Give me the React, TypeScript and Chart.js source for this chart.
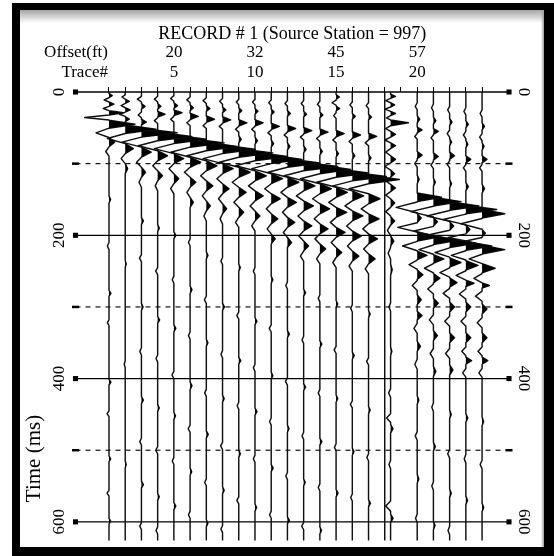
import React, { useEffect, useRef } from 'react';
import { Chart, registerables } from 'chart.js';

Chart.register(...registerables);

const SERIF = "'Liberation Serif', 'Times New Roman', serif";

// Header / axis annotations
const TRACE_NUMBERS = [1, 2, 3, 4, 5, 6, 7, 8, 9, 10, 11, 12, 13, 14, 15, 16, 17, 18, 19, 20, 21, 22, 23, 24];
const LABELED_TRACES = [5, 10, 15, 20];
const OFFSET_FT = [20, 32, 45, 57];
const TIME_TICKS = [0, 200, 400, 600];
const SOLID_LINES = [0, 200, 400, 600];
const DASHED_LINES = [100, 300, 500];
const TIME_MAX = 626;
const X_MIN = -1.065;
const X_MAX = 25.66;

// Plotted zero line of each trace (trace 19 carries a DC drift to the left)
const TRACE_ZERO = [1, 2, 3, 4, 5, 6, 7, 8, 9, 10, 11, 12, 13, 14, 15, 16, 17, 18, 18.36, 20, 21, 22, 23, 24];

// Each trace is a list of lobes: [time ms, amplitude (trace spacings, + = right), half width ms]
const TRACE_01 = [5, 0.2, 3, 11, -0.3, 3, 17, 0.3, 3, 23, -0.35, 3, 29, 0.9, 3, 35.5, -1.5, 3.5, 45, 1.6, 5.5, 57, -0.8, 6.5, 70, 0.35, 6.5, 83, -0.2, 6.5,
  150, 0.1, 5, 215, -0.1, 5, 281, 0.12, 4, 322, -0.1, 4, 405, 0.12, 4, 449, -0.12, 4, 512, 0.1, 4, 560, -0.12, 4, 599, 0.1, 4];
const TRACE_02 = [7, -0.2, 3, 13, 0.25, 3, 19, -0.25, 3, 25, 0.3, 3, 31, -0.35, 3, 38, 0.25, 3.5, 52, 1.9, 6, 65, -1.1, 7, 79, 0.5, 7, 93, -0.25, 7, 107, 0.15, 7,
  240, 0.06, 5, 380, -0.06, 5, 520, 0.06, 5];
const TRACE_03 = [10, -0.25, 4, 20, 0.22, 4, 32, -0.2, 4, 42, 0.3, 4, 57, 2.2, 6, 70, -1.2, 7, 84, 0.6, 7, 98, -0.3, 7, 112, 0.25, 7, 126, -0.15, 7,
  180, 0.12, 5, 232, -0.12, 5, 300, 0.1, 5, 362, -0.1, 5, 430, 0.12, 5, 488, -0.1, 5, 548, 0.12, 5, 606, -0.1, 5];
const TRACE_04 = [10, -0.2, 4, 20, 0.2, 4, 31, 0.45, 4, 40, -0.2, 4, 62, 2.1, 6, 75, -1.2, 7, 89, 0.6, 7, 103, -0.3, 7, 117, 0.3, 7, 131, -0.15, 7,
  190, 0.1, 5, 250, -0.12, 5, 318, 0.12, 5, 372, -0.1, 5, 441, 0.1, 5, 500, -0.12, 5, 565, 0.1, 5, 612, -0.1, 5];
const TRACE_05 = [9, -0.2, 4, 19, 0.22, 4, 29, 0.5, 4, 38, -0.2, 4, 66, 2.0, 6, 79, -1.2, 7, 93, 0.6, 7, 107, -0.3, 7, 121, 0.3, 7, 135, -0.2, 7,
  200, 0.12, 5, 262, -0.1, 5, 330, 0.12, 5, 395, -0.12, 5, 452, 0.1, 5, 515, -0.1, 5, 578, 0.12, 5];
const TRACE_06 = [11, -0.2, 4, 22, 0.2, 4, 34, 0.5, 4.5, 43, -0.2, 4, 71, 2.1, 6, 84, -1.2, 7, 98, 0.65, 7, 112, -0.35, 7, 126, 0.35, 7, 140, -0.2, 7, 154, 0.2, 7,
  210, -0.1, 5, 276, 0.12, 5, 340, -0.1, 5, 410, 0.12, 5, 470, -0.12, 5, 530, 0.1, 5, 590, -0.1, 5];
const TRACE_07 = [12, -0.2, 4, 23, 0.22, 4, 38, 0.5, 4.5, 47, -0.2, 4, 76, 1.9, 6, 89, -1.2, 7, 103, 0.65, 7, 117, -0.35, 7, 131, 0.4, 7, 145, -0.25, 7, 159, 0.25, 7, 173, -0.15, 7,
  228, 0.1, 5, 290, -0.12, 5, 350, 0.1, 5, 420, -0.1, 5, 478, 0.12, 5, 545, -0.1, 5, 602, 0.1, 5];
const TRACE_08 = [13, -0.18, 4, 25, 0.2, 4, 39, 0.5, 4.5, 48, -0.2, 4, 80, 2.0, 6, 93, -1.2, 7, 107, 0.65, 7, 121, -0.35, 7, 135, 0.4, 7, 149, -0.25, 7, 163, 0.25, 7, 177, -0.15, 7,
  236, -0.1, 5, 300, 0.12, 5, 366, -0.1, 5, 428, 0.1, 5, 494, -0.12, 5, 556, 0.1, 5, 610, -0.1, 5];
const TRACE_09 = [14, -0.15, 4, 26, 0.18, 4, 43, 0.5, 4.5, 52, -0.2, 4, 66, 0.15, 5, 85, 2.1, 6, 98, -1.2, 7, 112, 0.7, 7, 126, -0.4, 7, 140, 0.45, 7, 154, -0.3, 7, 168, 0.3, 7, 182, -0.2, 7,
  245, 0.1, 5, 312, -0.12, 5, 375, 0.12, 5, 438, -0.1, 5, 505, 0.1, 5, 570, -0.12, 5];
const TRACE_10 = [14, -0.15, 4, 27, 0.18, 4, 43, 0.5, 4.5, 52, -0.2, 4, 68, 0.15, 5, 90, 2.0, 6, 103, -1.2, 7, 117, 0.7, 7, 131, -0.4, 7, 145, 0.5, 7, 159, -0.3, 7, 173, 0.3, 7, 187, -0.2, 7,
  250, -0.1, 5, 320, 0.12, 5, 385, -0.1, 5, 446, 0.12, 5, 512, -0.1, 5, 580, 0.1, 5];
const TRACE_11 = [15, -0.15, 4, 28, 0.18, 4, 48, 0.5, 4.5, 57, -0.2, 4, 72, 0.15, 5, 94, 1.9, 6, 107, -1.2, 7, 121, 0.7, 7, 135, -0.4, 7, 149, 0.55, 7, 163, -0.3, 7, 177, 0.4, 7, 191, -0.25, 7, 205, 0.25, 7,
  262, 0.1, 5, 330, -0.12, 5, 396, 0.1, 5, 460, -0.1, 5, 525, 0.12, 5, 590, -0.1, 5];
const TRACE_12 = [16, -0.15, 4, 30, 0.18, 4, 51, 0.5, 4.5, 60, -0.2, 4, 76, 0.15, 5, 99, 2.0, 6, 112, -1.2, 7, 126, 0.7, 7, 140, -0.4, 7, 154, 0.55, 7, 168, -0.3, 7, 182, 0.45, 7, 196, -0.25, 7, 210, 0.25, 7,
  270, -0.1, 5, 338, 0.12, 5, 404, -0.12, 5, 470, 0.1, 5, 536, -0.1, 5, 598, 0.12, 5];
const TRACE_13 = [16, -0.15, 4, 31, 0.18, 4, 54, 0.5, 4.5, 63, -0.2, 4, 80, 0.15, 5, 104, 2.1, 6, 117, -1.2, 7, 131, 0.7, 7, 145, -0.45, 7, 159, 0.6, 7, 173, -0.35, 7, 187, 0.5, 7, 201, -0.3, 7, 215, 0.3, 7, 229, -0.2, 7,
  280, 0.12, 5, 346, -0.1, 5, 412, 0.12, 5, 480, -0.1, 5, 545, 0.1, 5, 606, -0.12, 5];
const TRACE_14 = [17, -0.15, 4, 32, 0.18, 4, 56, 0.5, 4.5, 65, -0.2, 4, 83, 0.15, 5, 108, 1.9, 6, 121, -1.2, 7, 135, 0.7, 7, 149, -0.45, 7, 163, 0.6, 7, 177, -0.35, 7, 191, 0.5, 7, 205, -0.3, 7, 219, 0.35, 7, 233, -0.2, 7,
  288, -0.1, 5, 352, 0.12, 5, 420, -0.1, 5, 488, 0.12, 5, 552, -0.1, 5, 612, 0.1, 5];
const TRACE_15 = [7, 0.2, 3.5, 15, -0.25, 3.5, 23, 0.22, 3.5, 33, -0.15, 4, 58, 0.5, 4.5, 67, -0.2, 4, 86, 0.15, 5, 113, 2.0, 6, 126, -1.2, 7, 140, 0.7, 7, 154, -0.45, 7, 168, 0.65, 7, 182, -0.35, 7, 196, 0.55, 7, 210, -0.3, 7, 224, 0.35, 7, 238, -0.2, 7,
  296, 0.1, 5, 360, -0.12, 5, 428, 0.1, 5, 496, -0.1, 5, 560, 0.12, 5];
const TRACE_16 = [18, -0.15, 4, 34, 0.18, 4, 60, 0.5, 4.5, 69, -0.2, 4, 89, 0.15, 5, 118, 2.1, 6, 131, -1.2, 7, 145, 0.7, 7, 159, -0.45, 7, 173, 0.65, 7, 187, -0.35, 7, 201, 0.55, 7, 215, -0.3, 7, 229, 0.4, 7, 243, -0.2, 7,
  302, -0.1, 5, 368, 0.12, 5, 436, -0.12, 5, 502, 0.1, 5, 566, -0.1, 5];
const TRACE_17 = [19, -0.15, 4, 35, 0.18, 4, 62, 0.5, 4.5, 71, -0.2, 4, 92, 0.15, 5, 122, 1.9, 6, 135, -1.2, 7, 149, 0.7, 7, 163, -0.45, 7, 177, 0.65, 7, 191, -0.35, 7, 205, 0.55, 7, 219, -0.3, 7, 233, 0.4, 7, 247, -0.2, 7,
  310, 0.1, 5, 376, -0.12, 5, 444, 0.1, 5, 510, -0.1, 5, 574, 0.12, 5];
// Dead channel: flat line
const TRACE_18: number[] = [];
// Noisy channel
const TRACE_19 = [6, 0.3, 3, 12, -0.3, 3, 18, 0.25, 3, 24, -0.35, 3, 30, 0.3, 3, 36, -0.25, 3, 43, 1.1, 4, 51, -0.3, 4, 59, 0.3, 4, 67, -0.35, 4, 75, 0.3, 4, 84, -0.3, 5, 94, 0.3, 5, 104, -0.35, 5, 114, 0.25, 5, 124, -0.3, 5, 134, 0.3, 5, 144, -0.3, 5, 155, 0.25, 6, 167, -0.3, 6, 180, 0.25, 6, 193, -0.2, 7, 208, 0.2, 7, 225, -0.15, 8, 248, 0.1, 8,
  300, -0.1, 6, 362, 0.08, 6, 420, -0.12, 6, 455, -0.25, 6, 470, 0.15, 6, 520, -0.1, 6, 578, -0.3, 7, 595, 0.15, 6];
const TRACE_20 = [20, -0.12, 5, 38, 0.15, 5, 53, 0.3, 4, 62, -0.15, 4, 88, 0.3, 5, 100, -0.15, 5, 122, 0.12, 6,
  147, 1.5, 6, 161, -1.3, 7.5, 176, 0.25, 6, 189, -1.2, 6.5, 202, 1.4, 6, 215, -0.9, 6.5, 228, 0.6, 6, 241, -0.5, 6.5, 255, 0.35, 6.5, 270, -0.3, 7, 290, 0.25, 7, 312, 0.3, 6, 330, -0.2, 7, 355, 0.2, 7, 380, -0.15, 7,
  430, 0.1, 6, 480, -0.12, 6, 540, 0.1, 6, 595, -0.1, 6];
const TRACE_21 = [22, -0.12, 5, 40, 0.15, 5, 55, 0.3, 4, 64, -0.15, 4, 90, 0.3, 5, 102, -0.15, 5, 126, 0.12, 6,
  153, 1.7, 6, 167, -1.4, 7.5, 181, 0.25, 6, 194, -1.2, 6.5, 207, 1.5, 6, 220, -0.9, 6.5, 233, 0.65, 6, 246, -0.55, 6.5, 260, 0.4, 6.5, 275, -0.35, 7, 295, 0.3, 7, 318, -0.25, 7, 340, 0.25, 7, 365, -0.2, 7, 390, 0.15, 7,
  440, -0.1, 6, 495, 0.12, 6, 550, -0.1, 6, 605, 0.1, 6];
const TRACE_22 = [25, -0.12, 5, 42, 0.15, 5, 58, -0.15, 5, 70, 0.12, 5, 89, 0.3, 5, 101, -0.15, 5, 128, 0.12, 6,
  159, 1.8, 6, 173, -1.4, 7.5, 187, 0.25, 6, 199, -1.2, 6, 211, 1.6, 6, 224, -0.9, 6.5, 238, 0.7, 6.5, 252, -0.6, 6.5, 266, 0.45, 6.5, 281, -0.4, 7, 300, 0.3, 7, 320, -0.3, 7, 343, 0.3, 7, 365, -0.25, 7, 388, 0.2, 7,
  450, 0.1, 6, 505, -0.12, 6, 560, 0.1, 6, 612, -0.1, 6];
const TRACE_23 = [27, -0.12, 5, 45, 0.15, 5, 60, -0.15, 5, 73, 0.12, 5, 94, 0.3, 5, 106, -0.15, 5, 132, 0.15, 6,
  164, 1.9, 6, 178, -1.4, 7.5, 192, 0.25, 6, 203, -1.1, 5, 215, 1.6, 6, 228, -0.9, 6.5, 242, 0.75, 6.5, 256, -0.6, 6.5, 267, 0.5, 4.5, 282, -0.4, 7, 300, 0.3, 7, 320, -0.3, 7, 343, 0.3, 7, 362, -0.25, 6, 375, 0.35, 5, 392, -0.2, 6,
  455, 0.12, 6, 512, -0.1, 6, 570, 0.1, 6];
const TRACE_24 = [30, -0.12, 5, 48, 0.15, 5, 63, -0.15, 5, 76, 0.12, 5, 94, 0.3, 5, 106, -0.15, 5, 135, 0.15, 6,
  170, 1.4, 6, 184, -1.3, 7.5, 197, 0.2, 5, 208, -1.0, 5, 220, 1.4, 6, 233, -0.8, 6.5, 246, 0.8, 6.5, 260, -0.5, 6.5, 270, 0.45, 3.5, 285, -0.4, 7, 303, 0.3, 7, 322, -0.3, 7, 343, 0.3, 7, 362, -0.25, 6, 375, 0.35, 5, 392, -0.2, 6,
  460, 0.1, 6, 520, -0.12, 6, 580, 0.1, 6];

const TRACES = [TRACE_01, TRACE_02, TRACE_03, TRACE_04, TRACE_05, TRACE_06, TRACE_07, TRACE_08, TRACE_09, TRACE_10, TRACE_11, TRACE_12,
  TRACE_13, TRACE_14, TRACE_15, TRACE_16, TRACE_17, TRACE_18, TRACE_19, TRACE_20, TRACE_21, TRACE_22, TRACE_23, TRACE_24];

// Turn a lobe list into polyline vertices (each lobe starts and ends on the zero line)
function tracePoints(lobes: number[], zero: number, positiveOnly: boolean) {
  const verts: number[][] = [[0, 0], [TIME_MAX, 0]];
  for (let i = 0; i < lobes.length; i += 3) {
    const t = lobes[i];
    const a = lobes[i + 1];
    const w = lobes[i + 2];
    verts.push([t - w, 0], [t, a], [t + w, 0]);
  }
  verts.sort((p, q) => p[0] - q[0]);
  return verts.map(([t, a]) => ({ x: zero + (positiveOnly ? Math.max(0, a) : a), y: t }));
}

function buildDatasets() {
  const sets: any[] = [];
  TRACES.forEach((lobes, i) => {
    const zero = TRACE_ZERO[i];
    // variable-area fill of the positive lobes
    sets.push({
      data: tracePoints(lobes, zero, true),
      borderWidth: 0,
      borderColor: 'rgba(0,0,0,0)',
      backgroundColor: '#000',
      fill: { value: zero },
      pointRadius: 0,
    });
    // wiggle line
    sets.push({
      data: tracePoints(lobes, zero, false),
      borderWidth: 1.45,
      borderColor: '#111',
      fill: false,
      pointRadius: 0,
    });
  });
  SOLID_LINES.forEach((t) => {
    sets.push({
      data: [{ x: X_MIN, y: t }, { x: X_MAX, y: t }],
      borderWidth: 1.3,
      borderColor: '#000',
      fill: false,
      pointStyle: 'rect',
      pointRadius: 3.6,
      pointBackgroundColor: '#000',
      pointBorderColor: '#000',
      pointBorderWidth: 0,
      clip: false,
    });
  });
  DASHED_LINES.forEach((t) => {
    sets.push({
      data: [{ x: X_MIN, y: t }, { x: X_MAX, y: t }],
      borderWidth: 1.1,
      borderColor: '#000',
      borderDash: [5, 5],
      fill: false,
      pointStyle: 'line',
      pointRadius: 3.5,
      pointBorderColor: '#000',
      pointBorderWidth: 2.5,
      clip: false,
    });
  });
  return sets;
}

const headerText = {
  id: 'headerText',
  afterDraw(chart: any) {
    const { ctx, chartArea } = chart;
    ctx.save();
    ctx.fillStyle = '#000';
    ctx.font = `17px ${SERIF}`;
    ctx.textAlign = 'right';
    ctx.textBaseline = 'middle';
    ctx.fillText('Offset(ft)', chartArea.left + 32.5, chartArea.top - 39);
    ctx.fillText('Trace#', chartArea.left + 32.5, chartArea.top - 19);
    ctx.translate(chartArea.left - 41, chartArea.bottom - 82);
    ctx.rotate(-Math.PI / 2);
    ctx.textAlign = 'center';
    ctx.font = `21px ${SERIF}`;
    ctx.fillText('Time (ms)', 0, 0);
    ctx.restore();
  },
};

export default function App() {
  const ref = useRef<HTMLCanvasElement>(null);

  useEffect(() => {
    const tickFont = { family: SERIF, size: 17 };
    const chart = new Chart(ref.current as HTMLCanvasElement, {
      type: 'line',
      data: { datasets: buildDatasets() },
      options: {
        responsive: false,
        animation: false,
        indexAxis: 'y',
        events: [],
        layout: { padding: 0 },
        elements: { line: { tension: 0, borderJoinStyle: 'round' }, point: { radius: 0 } },
        plugins: {
          legend: { display: false },
          tooltip: { enabled: false },
          title: {
            display: true,
            text: 'RECORD # 1 (Source Station = 997)',
            fullSize: false,
            color: '#000',
            font: { family: SERIF, size: 18, weight: 'normal', lineHeight: 1.2 },
            padding: { top: 13, bottom: 0 },
          },
        },
        scales: {
          x: {
            type: 'linear',
            position: 'top',
            min: X_MIN,
            max: X_MAX,
            afterBuildTicks: (s: any) => {
              s.ticks = TRACE_NUMBERS.map((v) => ({ value: v }));
            },
            afterFit: (s: any) => {
              s.height = 47.4;
              s.paddingLeft = 0;
              s.paddingRight = 0;
            },
            ticks: {
              autoSkip: false,
              maxRotation: 0,
              minRotation: 0,
              padding: 4,
              color: '#000',
              font: { ...tickFont, lineHeight: 1.18 },
              callback: (v: any) => {
                const k = LABELED_TRACES.indexOf(Number(v));
                return k >= 0 ? [String(OFFSET_FT[k]), String(LABELED_TRACES[k])] : '';
              },
            },
            grid: { drawOnChartArea: false, drawTicks: true, tickLength: 5, color: '#000', lineWidth: 1 },
            border: { display: false },
          },
          y: {
            type: 'linear',
            position: 'left',
            reverse: true,
            min: 0,
            max: TIME_MAX,
            afterBuildTicks: (s: any) => {
              s.ticks = TIME_TICKS.map((v) => ({ value: v }));
            },
            afterFit: (s: any) => {
              s.width = 55.5;
              s.paddingTop = 0;
              s.paddingBottom = 0;
            },
            ticks: { minRotation: 90, maxRotation: 90, crossAlign: 'center', padding: 3, color: '#000', font: tickFont },
            grid: { display: false, drawTicks: false },
            border: { display: false },
          },
          y2: {
            type: 'linear',
            position: 'right',
            display: true,
            reverse: true,
            min: 0,
            max: TIME_MAX,
            afterBuildTicks: (s: any) => {
              s.ticks = TIME_TICKS.map((v) => ({ value: v }));
            },
            afterFit: (s: any) => {
              s.width = 35;
              s.paddingTop = 0;
              s.paddingBottom = 0;
            },
            ticks: { minRotation: -90, maxRotation: -90, crossAlign: 'center', padding: 2, color: '#000', font: tickFont },
            grid: { display: false, drawTicks: false },
            border: { display: false },
          },
        },
      },
      plugins: [headerText],
    } as any);
    return () => chart.destroy();
  }, []);

  return (
    <div style={{ position: 'absolute', left: 0, top: 0, width: 554, height: 556, background: '#fff', overflow: 'hidden' }}>
      <div
        style={{
          position: 'absolute',
          left: 12,
          top: 3,
          width: 542,
          height: 553,
          boxSizing: 'border-box',
          borderStyle: 'solid',
          borderColor: '#000',
          borderWidth: '7px 10px 9px 8px',
        }}
      />
      <div
        style={{
          position: 'absolute',
          left: 20,
          top: 10,
          width: 524,
          height: 13,
          background: 'linear-gradient(to bottom, #a4a4a4, rgba(255,255,255,0))',
        }}
      />
      <div
        style={{
          position: 'absolute',
          left: 541,
          top: 10,
          width: 3,
          height: 537,
          background: 'linear-gradient(to right, rgba(170,170,170,0), #9c9c9c)',
        }}
      />
      <canvas
        ref={ref}
        width={524}
        height={537}
        style={{ position: 'absolute', left: 20, top: 10, width: 524, height: 537 }}
      />
    </div>
  );
}
